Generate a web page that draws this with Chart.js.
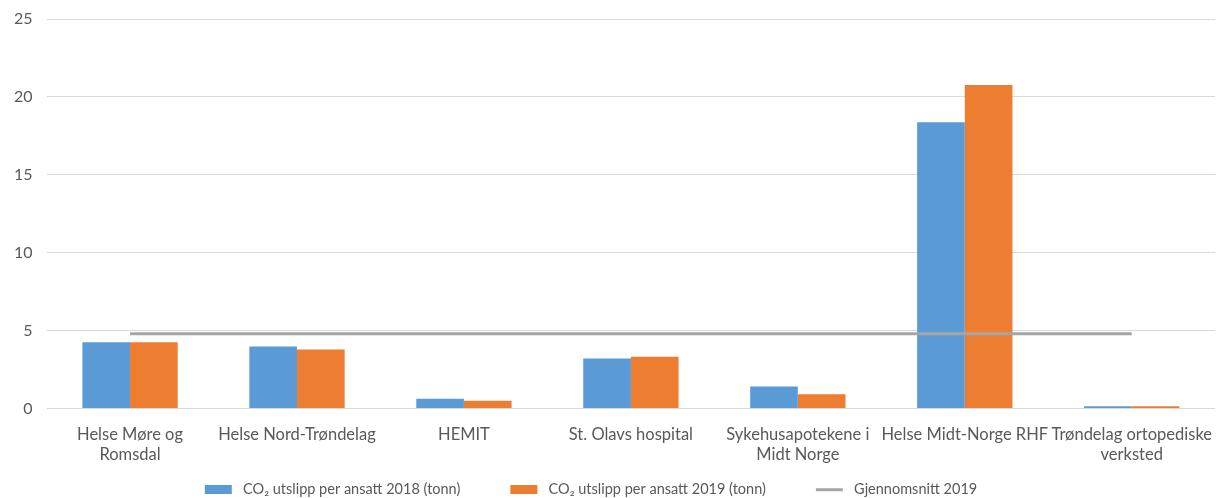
<!DOCTYPE html>
<html>
<head>
<meta charset="utf-8">
<script src="https://cdn.jsdelivr.net/npm/chart.js@4"></script>
<style>
  html, body { margin: 0; padding: 0; background: #fff; }
  #wrap { width: 1220px; height: 498px; }
</style>
</head>
<body>
<div id="wrap"><canvas id="co2Chart"></canvas></div>
<script>
// ===== Data =====
const categories = [
    ["Helse Møre og", "Romsdal"],
    "Helse Nord-Trøndelag",
    "HEMIT",
    "St. Olavs hospital",
    ["Sykehusapotekene i", "Midt Norge"],
    "Helse Midt-Norge RHF",
    ["Trøndelag ortopediske", "verksted"]
];
const perEmployee2018 = [4.25, 3.98, 0.63, 3.21, 1.41, 18.38, 0.14];
const perEmployee2019 = [4.25, 3.79, 0.50, 3.32, 0.92, 20.76, 0.14];
const average2019 = [4.8, 4.8, 4.8, 4.8, 4.8, 4.8, 4.8];
const yTicks = [0, 5, 10, 15, 20, 25];

const seriesNames = [
    "CO\u2082 utslipp per ansatt 2018 (tonn)",
    "CO\u2082 utslipp per ansatt 2019 (tonn)",
    "Gjennomsnitt 2019"
];

// legend markers: transparent gap on the left, then box or thin line
const MARK_GAP = 46, MARK_W = 27, MARK_H = 9, MARK_AFTER = 4;
function marker(color, h) {
    const c = document.createElement("canvas");
    c.width = MARK_GAP + MARK_W + MARK_AFTER;
    c.height = MARK_H;
    const ctx = c.getContext("2d");
    ctx.fillStyle = color;
    ctx.fillRect(MARK_GAP, (MARK_H - h) / 2, MARK_W, h);
    return c;
}
const markers = [marker("#5b9bd5", 9), marker("#ed7d31", 9), marker("#a5a5a5", 3)];

// the reference legend sits a bit left of centre
const legendShift = {
    id: "legendShift",
    afterLayout(chart) {
        chart.legend.left -= 42;
        chart.legend.right -= 42;
    }
};

Chart.defaults.font.family = "Lato, 'Open Sans', sans-serif";
Chart.defaults.color = "#595959";

new Chart(document.getElementById("co2Chart").getContext("2d"), {
    type: "bar",
    data: {
        labels: categories,
        datasets: [
            {
                label: seriesNames[0],
                data: perEmployee2018,
                backgroundColor: "#5b9bd5",
                order: 1
            },
            {
                label: seriesNames[1],
                data: perEmployee2019,
                backgroundColor: "#ed7d31",
                order: 1
            },
            {
                type: "line",
                label: seriesNames[2],
                data: average2019,
                borderColor: "#a5a5a5",
                backgroundColor: "#a5a5a5",
                borderWidth: 3,
                pointRadius: 0,
                fill: false,
                order: 0
            }
        ]
    },
    plugins: [legendShift],
    options: {
        responsive: true,
        maintainAspectRatio: false,
        animation: false,
        categoryPercentage: 0.571,
        barPercentage: 1,
        layout: { padding: { top: 19, right: 0, left: 0, bottom: -9 } },
        scales: {
            x: {
                grid: { display: false },
                border: { display: false },
                afterFit: (axis) => { axis.height = 70; },
                ticks: {
                    font: { size: 16.5 },
                    padding: 8,
                    maxRotation: 0,
                    autoSkip: false
                }
            },
            y: {
                min: 0,
                max: 25,
                afterBuildTicks: (axis) => { axis.ticks = yTicks.map(v => ({ value: v })); },
                afterFit: (axis) => { axis.paddingTop = 0; axis.paddingBottom = 0; },
                grid: { color: "#d9d9d9", lineWidth: 1, drawTicks: false },
                border: { display: false },
                ticks: { font: { size: 16 }, padding: 14 }
            }
        },
        plugins: {
            tooltip: { enabled: false },
            legend: {
                position: "bottom",
                labels: {
                    usePointStyle: true,
                    pointStyleWidth: MARK_GAP + MARK_W + MARK_AFTER,
                    boxHeight: 9,
                    padding: 4,
                    font: { size: 14.5 },
                    color: "#595959",
                    generateLabels: (chart) => {
                        const items = Chart.defaults.plugins.legend.labels.generateLabels(chart);
                        items.sort((a, b) => a.datasetIndex - b.datasetIndex);
                        items.forEach(item => { item.pointStyle = markers[item.datasetIndex]; });
                        return items;
                    }
                }
            }
        }
    }
});
</script>
</body>
</html>
